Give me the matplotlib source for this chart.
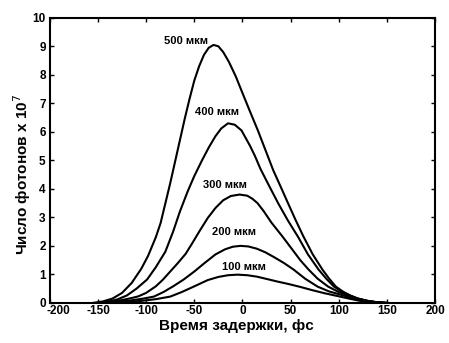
import matplotlib
matplotlib.use("Agg")
import matplotlib.pyplot as plt
from matplotlib.transforms import ScaledTranslation

plt.rcParams['font.family'] = ['Liberation Sans', 'DejaVu Sans']
plt.rcParams['axes.unicode_minus'] = False

# curve data: delay (fs) -> photons (x 1e7)
t_500 = [-155, -145, -135, -125, -115, -105, -98, -90, -85, -80, -75, -70, -65, -60, -55, -50, -45, -40, -35, -30,
         -25, -20, -14, -7, 1, 8, 16, 24, 32, 40, 47, 55, 63, 73, 83, 90, 97, 105, 112, 120, 130, 140, 150]
n_500 = [0.0, 0.05, 0.15, 0.35, 0.7, 1.2, 1.65, 2.3, 2.8, 3.5, 4.2, 4.95, 5.7, 6.45, 7.15, 7.8, 8.3, 8.7, 8.95, 9.05,
         9.0, 8.8, 8.45, 7.95, 7.28, 6.7, 6.05, 5.35, 4.65, 4.05, 3.52, 2.92, 2.35, 1.7, 1.17, 0.85, 0.57, 0.38, 0.25, 0.14, 0.06, 0.02, 0.0]

t_400 = [-150, -140, -130, -120, -110, -99, -90, -80, -72, -65, -57, -50, -42, -35, -28, -22, -15,
         -8, -1, 8, 13, 18.7, 27, 37, 47, 58, 68, 79, 87, 95, 103, 112, 120, 130, 140, 150]
n_400 = [0.0, 0.04, 0.12, 0.26, 0.5, 0.82, 1.25, 1.8, 2.5, 3.2, 3.9, 4.45, 5.0, 5.45, 5.85, 6.12, 6.3,
         6.25, 6.05, 5.5, 5.15, 4.7, 4.15, 3.5, 2.9, 2.3, 1.7, 1.17, 0.85, 0.57, 0.4, 0.26, 0.15, 0.07, 0.02, 0.0]

t_300 = [-148, -135, -125, -115, -108, -100, -90, -83, -75, -67, -59, -52, -44, -36, -28, -20, -12, -3,
         5, 10, 15.6, 22, 30, 41.5, 50, 60, 68.6, 78, 89, 100, 110, 120, 130, 140, 150]
n_300 = [0.0, 0.04, 0.1, 0.17, 0.23, 0.35, 0.58, 0.8, 1.1, 1.4, 1.72, 2.1, 2.55, 2.98, 3.33, 3.6, 3.75, 3.8,
         3.76, 3.66, 3.5, 3.22, 2.82, 2.33, 1.95, 1.5, 1.17, 0.85, 0.57, 0.38, 0.26, 0.15, 0.07, 0.02, 0.0]

t_200 = [-142, -128, -115, -103, -92, -82, -72, -61, -50, -40, -28, -18, -10, -2,
         6, 15, 24, 33, 43, 53, 65, 78, 90, 105, 115, 125, 135, 148]
n_200 = [0.0, 0.04, 0.09, 0.15, 0.22, 0.38, 0.58, 0.82, 1.1, 1.38, 1.7, 1.88, 1.97, 2.0,
         1.98, 1.9, 1.77, 1.6, 1.4, 1.17, 0.85, 0.57, 0.4, 0.26, 0.15, 0.08, 0.03, 0.0]

t_100 = [-138, -120, -105, -90, -75, -63, -50, -36, -25, -15, -5,
         5, 15, 25, 36, 48, 60, 72, 85, 100, 112, 122, 132, 145]
n_100 = [0.0, 0.03, 0.07, 0.13, 0.22, 0.38, 0.58, 0.8, 0.91, 0.97, 0.99,
         0.97, 0.92, 0.84, 0.75, 0.66, 0.56, 0.45, 0.34, 0.23, 0.14, 0.07, 0.03, 0.0]

labels = ['500 мкм', '400 мкм', '300 мкм', '200 мкм', '100 мкм']
label_x = [-59, -26, -18, -9, 2]
label_y = [9.2, 6.7, 4.13, 2.5, 1.27]

xticks = [-200, -150, -100, -50, 0, 50, 100, 150, 200]
yticks = list(range(0, 11))

fig = plt.figure(figsize=(4.49, 3.43), dpi=100)
ax = fig.add_axes([0.111, 0.117, 0.858, 0.831])

for t, n in [(t_500, n_500), (t_400, n_400), (t_300, n_300), (t_200, n_200), (t_100, n_100)]:
    ax.plot(t, n, color='black', lw=1.5, solid_joinstyle='round')

for lab, x, y in zip(labels, label_x, label_y):
    ax.text(x, y, lab, ha='center', va='center', fontsize=8, fontweight='bold')

ax.set_xlim(-200, 200)
ax.set_ylim(0, 10)
ax.set_xticks(xticks)
ax.set_xticklabels([str(v) for v in xticks])
ax.set_yticks(yticks)
ax.tick_params(direction='in', length=3, width=1, top=True, right=True, labelsize=8.5)
ax.tick_params(axis='x', pad=1.5)
ax.tick_params(axis='y', pad=3)
for lbl in ax.get_xticklabels() + ax.get_yticklabels():
    lbl.set_fontweight('bold')
# first x label sits a little to the right, clear of the y "0"
first = ax.get_xticklabels()[0]
first.set_transform(first.get_transform() + ScaledTranslation(9 / 100, 0, fig.dpi_scale_trans))
for s in ax.spines.values():
    s.set_linewidth(1.5)

ax.set_xlabel('Время задержки, фс', fontsize=11, fontweight='bold')
ax.set_ylabel('Число фотонов x 10$^7$', fontsize=11, fontweight='bold')
ax.xaxis.set_label_coords(0.483, -0.058)
ax.yaxis.set_label_coords(-0.045, 0.45)

fig.savefig('out.png', dpi=100)
